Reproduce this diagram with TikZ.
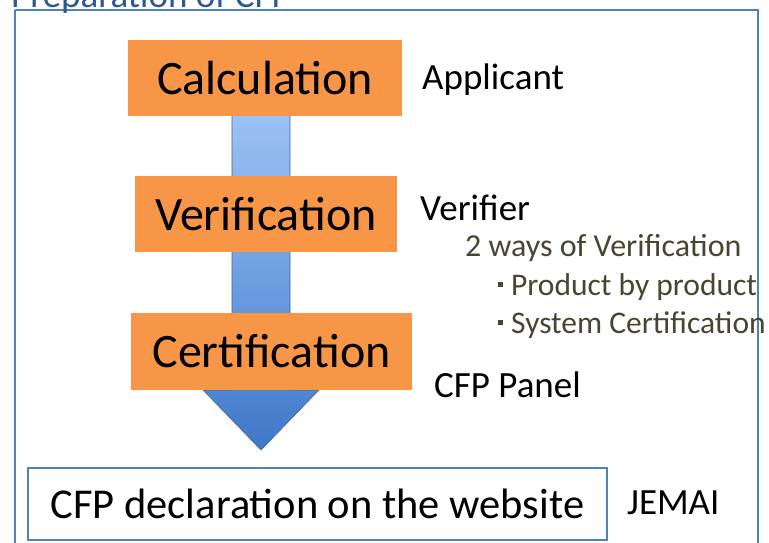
\documentclass[tikz,border=0pt]{standalone}
\usepackage{fontspec}
\setmainfont{Carlito}
\newcommand{\sqbul}{\makebox[13pt][l]{\raisebox{8pt}{\rule{5pt}{5pt}}}}
\begin{document}
\begin{tikzpicture}[x=1pt,y=-1pt,
  stepbox/.style={fill=orangebox,inner sep=0pt},
  lbl/.style={anchor=west,inner sep=0pt,font=\fontsize{37}{37}\selectfont},
  sub/.style={anchor=west,inner sep=0pt,text=olive2,font=\fontsize{32}{32}\selectfont},
  big/.style={font=\fontsize{48}{48}\selectfont}]
\definecolor{orangebox}{HTML}{F79646}
\definecolor{frameblue}{HTML}{4F81BD}
\definecolor{titleblue}{HTML}{2C5A8F}
\definecolor{olive2}{HTML}{4A4530}
\definecolor{arrtop}{HTML}{9CC2F7}
\definecolor{arrbot}{HTML}{3F78C9}
\useasboundingbox (0,0) rectangle (769,543);
\begin{scope}
\clip (0,0) rectangle (769,543);
% frame
\draw[frameblue,line width=2pt] (15,10) -- (758,10) -- (758,560) (15,10) -- (15,560);
% title
\node[anchor=base west,inner sep=0pt,text=titleblue,font=\fontsize{37}{37}\selectfont] (title) at (11,8) {Preparation of CFP};
\end{scope}
% arrow
\shade[top color=arrtop,bottom color=arrbot,draw=frameblue!80!black,line width=0.6pt]
  (232,115) -- (290,115) -- (290,390) -- (319,390) -- (261,450) -- (203,390) -- (232,390) -- cycle;
% steps
\node[stepbox,minimum width=274pt,minimum height=76pt,big] (calc) at (265,78) {Calculation};
\node[stepbox,minimum width=262pt,minimum height=76pt,big] (verif) at (266,214) {Verification};
\node[stepbox,minimum width=281pt,minimum height=77pt,big] (cert) at (271.5,351.5) {Certification};
% labels
\node[lbl] (app) at (422,80) {Applicant};
\node[lbl] (ver) at (420,208) {Verifier};
\node[sub] (ways) at (465,248) {2 ways of Verification};
\node[sub,font=\fontsize{31.5}{31.5}\selectfont] (pbp) at (498,287) {\sqbul Product by product};
\node[sub,font=\fontsize{31.5}{31.5}\selectfont] (sys) at (498,325) {\sqbul System Certification};
\node[lbl] (panel) at (434,385) {CFP Panel};
% bottom
\node[draw=frameblue,line width=1.3pt,minimum width=579pt,minimum height=72pt,inner sep=0pt,font=\fontsize{42.5}{42.5}\selectfont] (decl) at (317.5,504) {CFP declaration on the website};
\node[lbl] (jemai) at (627,503) {JEMAI};
\end{tikzpicture}
\end{document}
